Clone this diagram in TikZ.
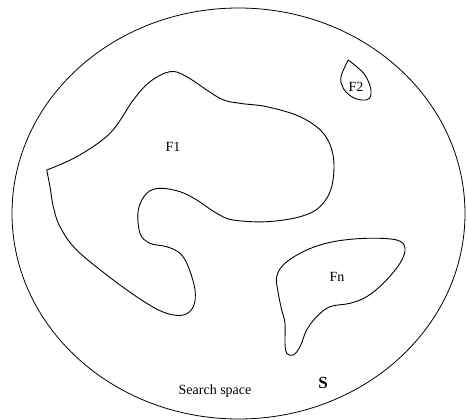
\documentclass[tikz,border=0pt]{standalone}
\usepackage{fontspec}
\setmainfont{Liberation Serif}

\begin{document}
\begin{tikzpicture}[x=1pt,y=-1pt,
  region/.style={line width=0.9pt,line join=round},
  lbl/.style={font=\fontsize{14}{16}\selectfont}]
  \useasboundingbox (0,0) rectangle (467,420);
  % search space S
  \draw[line width=0.8pt] (238.5,213.5) ellipse [x radius=226.5pt, y radius=205.5pt];
  % feasible region F1 (corner at left tip)
  \draw[region] plot[smooth,tension=0.6] coordinates {
    (46.7,170) (76.7,156.7) (110,133.3) (133.3,100) (150,81.7) (170,71.7)
    (186.7,76.7) (220,98.3) (240,103.3) (266.7,106.7) (300,116.7) (323.3,133.3)
    (333.3,156.7) (331.7,186.7) (320,206.7) (300,216.7) (266.7,221.7) (233.3,220)
    (216.7,213.3) (196.7,200) (180,191.7) (160,188.3) (146.7,193.3) (138.3,210)
    (140,233.3) (150,243.3) (166.7,246.7) (180,253.3) (188.3,266.7) (195,290)
    (193.3,306.7) (183.3,315) (166.7,313.3) (146.7,303.3) (113.3,280) (76.7,250)
    (60,226.7) (53.3,206.7) (50,186.7) (46.7,170)};
  % feasible region F2
  \draw[region] plot[smooth,tension=0.6] coordinates {
    (348.3,60) (341,76.7) (343.3,88.3) (351.7,96.7) (361.7,100) (369.5,98.3)
    (370.7,88.3) (365,75) (356.7,66.7) (348.3,60)};
  % feasible region Fn
  \draw[region] plot[smooth cycle,tension=0.6] coordinates {
    (285,263.3) (306.7,250) (333.3,241.7) (366.7,238.3) (396.7,240) (405,248.3)
    (400,263.3) (383.3,283.3) (366.7,296.7) (350,303.3) (330,306.7) (316.7,316.7)
    (306.7,330) (300,346.7) (293.3,355) (286.7,353.3) (285,343.3) (285,323.3)
    (281.7,310) (278.3,293.3) (276.7,276.7)};
  % labels
  \node[lbl] (f1) at (173,147) {F1};
  \node[lbl] (f2) at (356,87) {F2};
  \node[lbl] (fn) at (337,277) {Fn};
  \node[lbl] (search) at (215,391) {Search space};
  \node[font=\fontsize{17}{19}\selectfont\bfseries] (s) at (323,383) {S};
\end{tikzpicture}
\end{document}
